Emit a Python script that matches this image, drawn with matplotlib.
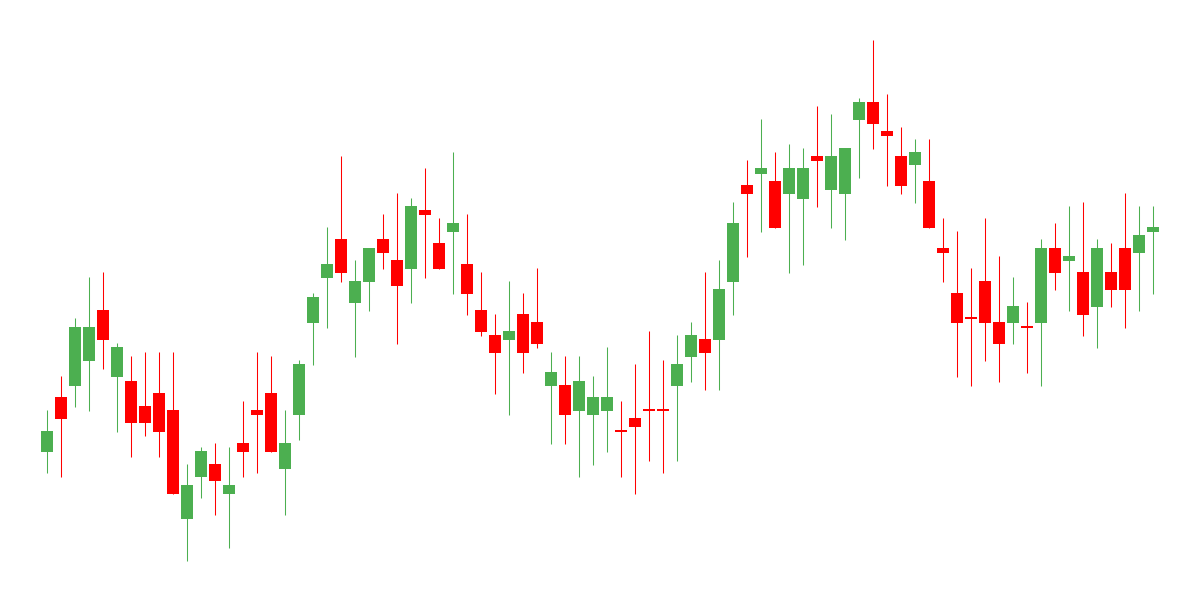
# ローソク足チャート（軸なし）
import matplotlib
matplotlib.use("Agg")
import matplotlib.pyplot as plt
import numpy as np

# 始値・高値・安値・終値（80本）
opens = [148.3, 203.3, 214.3, 239.3, 290, 223.3, 219, 194, 207, 190,
         81.3, 123.3, 136, 106.3, 157, 190, 207, 131.3, 185.3, 277.3,
         322.3, 361, 297.3, 318.3, 361, 340, 331.3, 390, 357, 368.3,
         336, 290, 265, 260.3, 286, 278, 214.3, 215, 189.3, 185.3,
         189.3, 169, 182, 190, 190, 214.3, 243.3, 261, 260.3, 318.3,
         415, 426.3, 419, 406.3, 401.3, 444, 410.3, 406.3, 480.3, 498,
         469, 444, 435.3, 419, 352, 307, 282, 319, 278, 277.3,
         273, 277.3, 352, 339.3, 328, 293.3, 328, 352, 347.3, 368.3]
highs = [190, 224, 282, 323, 328, 257, 244, 248, 248, 248,
         136, 153, 157, 153, 199, 248, 244, 190, 240, 307,
         373, 444, 340, 352, 386, 407, 402, 432, 382, 448,
         386, 328, 286, 319, 307, 332, 248, 244, 244, 224,
         253, 199, 236, 269, 240, 265, 278, 328, 340, 398,
         440, 481, 448, 456, 452, 494, 486, 452, 502, 560,
         506, 473, 461, 461, 382, 369, 332, 382, 344, 323,
         298, 361, 377, 394, 398, 361, 357, 407, 394, 394]
lows = [127.3, 123.3, 193.3, 189.3, 231.3, 168.3, 143.3, 164.3, 143.3, 106.3,
        39.3, 102.3, 85.3, 52.3, 123.3, 127.3, 148.3, 85.3, 160.3, 235.3,
        272.3, 318.3, 243.3, 289.3, 331.3, 256.3, 297.3, 322.3, 331.3, 306.3,
        285.3, 264.3, 206.3, 185.3, 227.3, 252.3, 156.3, 156.3, 123.3, 135.3,
        148.3, 123.3, 106.3, 139.3, 127.3, 139.3, 218.3, 210.3, 210.3, 285.3,
        343.3, 368.3, 372.3, 327.3, 335.3, 393.3, 372.3, 360.3, 422.3, 451.3,
        414.3, 406.3, 397.3, 372.3, 318.3, 223.3, 214.3, 239.3, 218.3, 256.3,
        227.3, 214.3, 310.3, 289.3, 264.3, 252.3, 293.3, 272.3, 289.3, 306.3]
closes = [169, 181.3, 273, 273, 260.3, 253, 177.3, 177.3, 168.3, 106.3,
          115, 149, 119.3, 115, 148.3, 185.3, 148.3, 157, 236, 303,
          336, 327.3, 319, 352, 347.3, 314.3, 394, 385.3, 331.3, 377,
          306.3, 268.3, 247.3, 269, 247.3, 256.3, 228, 185.3, 219, 203,
          203, 168.4, 173.3, 189.4, 189.4, 236, 265, 247.3, 311, 377,
          406.3, 432, 372.3, 432, 432, 439.3, 444, 452, 498, 476.3,
          464.3, 414.3, 448, 372.3, 347.3, 277.3, 281.4, 277.3, 256.3, 294,
          272.4, 352, 327.3, 344, 285.3, 352, 310.3, 310.3, 365, 373]

up_color = "#4caf50"
down_color = "#ff0000"

fig = plt.figure(figsize=(12, 6), dpi=100)
ax = fig.add_axes([0, 0, 1, 1])

o = np.array(opens)
h = np.array(highs)
l = np.array(lows)
c = np.array(closes)
x = np.arange(len(o))
colors = np.where(c > o, up_color, down_color)

# ヒゲ
ax.vlines(x, l, h, colors=colors, linewidth=0.75, zorder=1)
# 実体（十字線でも1px分は見えるように）
bottom = np.minimum(o, c)
height = np.maximum(np.abs(c - o), 1.2)
ax.bar(x, height, bottom=bottom, width=0.79, color=colors, linewidth=0, zorder=2)

ax.set_xlim(-47 / 14, -47 / 14 + 1200 / 14)
ax.set_ylim(0, 600)
ax.axis("off")

fig.savefig("out.png", dpi=100, facecolor="white")
